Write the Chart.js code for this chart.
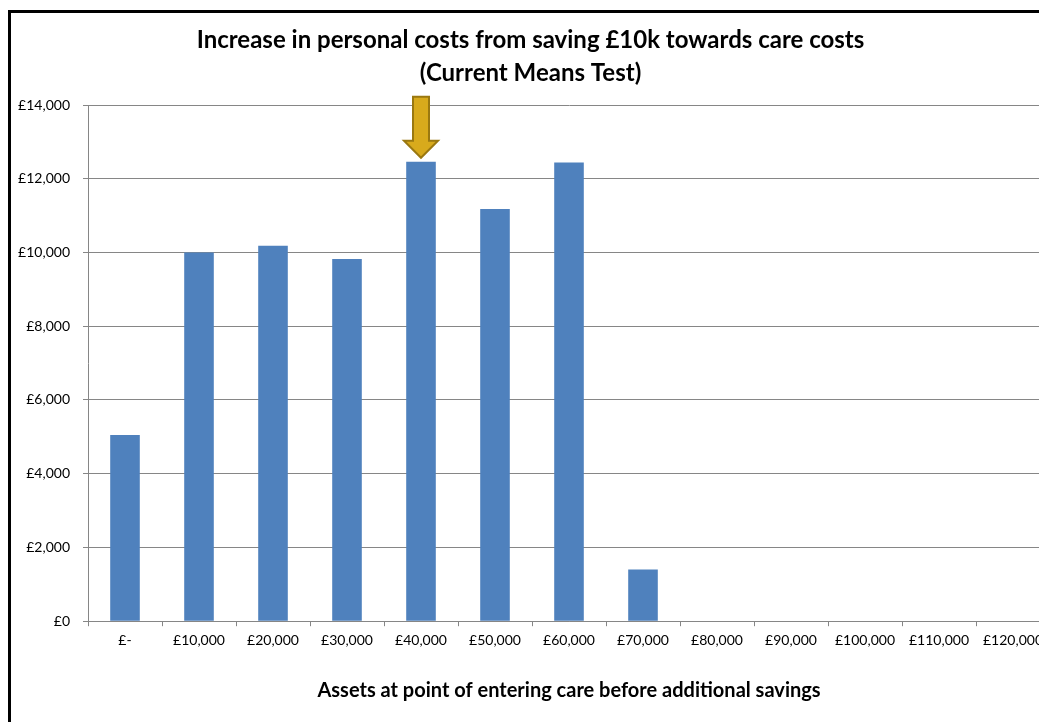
<!DOCTYPE html>
<html>
<head>
<meta charset="utf-8">
<script src="https://cdn.jsdelivr.net/npm/chart.js@4"></script>
<style>
    html, body { margin: 0; padding: 0; background: #fff; overflow: hidden; }
    #frame {
        position: absolute; left: 8px; top: 10px;
        width: 1060px; height: 740px;
        border: 3px solid #000;
    }
</style>
</head>
<body>
<div id="frame"><canvas id="costChart" width="1060" height="740"></canvas></div>
<script>
// Assets at point of entering care (categories)
var assetLabels = ['£-', '£10,000', '£20,000', '£30,000', '£40,000', '£50,000', '£60,000',
    '£70,000', '£80,000', '£90,000', '£100,000', '£110,000', '£120,000'];
// Increase in personal costs
var costIncrease = [5050, 10000, 10180, 9820, 12460, 11180, 12440, 1400, 0, 0, 0, 0, 0];
// highlighted category (arrow)
var highlightIndex = 4;
var yMax = 14000;
var yStep = 2000;

var FONT = 'Lato, "Open Sans", sans-serif';

// draws the gold arrow pointing at the highlighted bar
var arrowPlugin = {
    id: 'arrow',
    afterDatasetsDraw: function(chart) {
        var bar = chart.getDatasetMeta(0).data[highlightIndex];
        var ctx = chart.ctx;
        var x = bar.x;
        var tip = bar.y - 4;
        var headBase = tip - 17;
        var top = tip - 61;
        ctx.save();
        ctx.beginPath();
        ctx.moveTo(x - 8, top);
        ctx.lineTo(x + 8, top);
        ctx.lineTo(x + 8, headBase);
        ctx.lineTo(x + 17, headBase);
        ctx.lineTo(x, tip);
        ctx.lineTo(x - 17, headBase);
        ctx.lineTo(x - 8, headBase);
        ctx.closePath();
        ctx.fillStyle = '#D8AA1C';
        ctx.fill();
        ctx.lineWidth = 2;
        ctx.strokeStyle = '#9A7810';
        ctx.stroke();
        ctx.restore();
    }
};

var ctx = document.getElementById('costChart').getContext('2d');
var costChart = new Chart(ctx, {
    type: 'bar',
    data: {
        labels: assetLabels,
        datasets: [{
            data: costIncrease,
            backgroundColor: '#4F81BD',
            barPercentage: 0.4,
            categoryPercentage: 1.0
        }]
    },
    options: {
        responsive: false,
        animation: false,
        layout: { padding: { left: 0, right: 21, top: 0, bottom: 50 } },
        plugins: {
            legend: { display: false },
            tooltip: { enabled: false },
            title: {
                display: true,
                text: ['Increase in personal costs from saving £10k towards care costs', '(Current Means Test)'],
                color: '#000',
                font: { family: FONT, size: 24, weight: 'bold', lineHeight: 1.375 },
                padding: { top: 11, bottom: 15 }
            }
        },
        scales: {
            x: {
                grid: { display: true, offset: true, drawOnChartArea: false, drawTicks: true, tickLength: 5, color: '#868686' },
                border: { color: '#868686', width: 1 },
                ticks: { color: '#000', font: { family: FONT, size: 14 }, maxRotation: 0, autoSkip: false, padding: 6 },
                title: {
                    display: true,
                    text: 'Assets at point of entering care before additional savings',
                    color: '#000',
                    font: { family: FONT, size: 20, weight: 'bold' },
                    padding: { top: 24, bottom: 0 }
                }
            },
            y: {
                min: 0,
                max: yMax,
                afterFit: function(scale) { scale.width = 77; },
                grid: { color: '#868686', tickLength: 5 },
                border: { color: '#868686', width: 1 },
                ticks: {
                    stepSize: yStep,
                    color: '#000',
                    font: { family: FONT, size: 14 },
                    padding: 13,
                    callback: function(v) { return '£' + v.toLocaleString('en-GB'); }
                }
            }
        }
    },
    plugins: [arrowPlugin]
});
</script>
</body>
</html>
